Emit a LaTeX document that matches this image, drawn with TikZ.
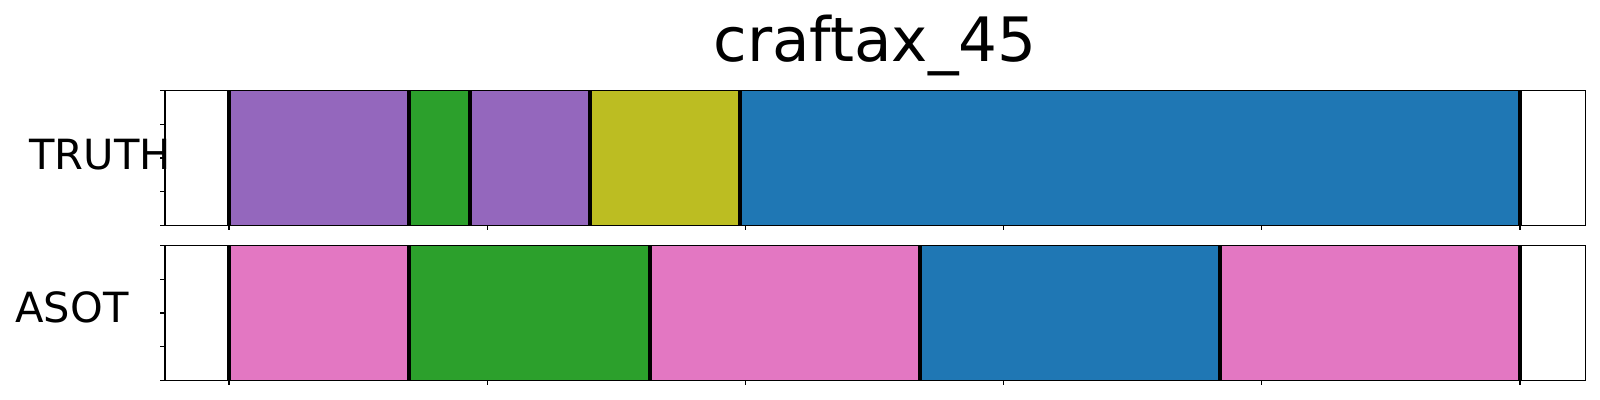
\documentclass[tikz,border=0pt]{standalone}
\usepackage{fontspec}
\setmainfont{DejaVu Sans}
\usepackage{tikz}

\definecolor{segpurple}{HTML}{9467BD}
\definecolor{seggreen}{HTML}{2CA02C}
\definecolor{segolive}{HTML}{BCBD22}
\definecolor{segblue}{HTML}{1F77B4}
\definecolor{segpink}{HTML}{E377C2}

\begin{document}
\begin{tikzpicture}[x=0.5pt, y=-0.5pt,
  spine/.style={line width=0.55pt, black},
  bound/.style={line width=1.85pt, black},
  rowlabel/.style={anchor=base west, inner sep=0pt, font=\fontsize{20.8pt}{25pt}\selectfont}]
  \useasboundingbox [fill=white] (0,0) rectangle (1600,400);

  % title and row labels
  \node (title) at (875,61.7) [anchor=base, inner sep=0pt, font=\fontsize{30.6pt}{36pt}\selectfont] {craftax\_45};
  \node (truth) at (29,169.3) [rowlabel] {TRUTH};
  \node (asot) at (15,322.7) [rowlabel] {ASOT};

  % TRUTH segments
  \fill [segpurple] (229,90.7) rectangle (409,225.3);
  \fill [seggreen] (409,90.7) rectangle (470,225.3);
  \fill [segpurple] (470,90.7) rectangle (589.7,225.3);
  \fill [segolive] (589.7,90.7) rectangle (739.7,225.3);
  \fill [segblue] (739.7,90.7) rectangle (1520,225.3);
  \foreach \b in {229,409,470,589.7,739.7,1520}
    \draw [bound] (\b,90.7) -- (\b,225.3);

  % ASOT segments
  \fill [segpink] (229,245.7) rectangle (409,380.3);
  \fill [seggreen] (409,245.7) rectangle (649.8,380.3);
  \fill [segpink] (649.8,245.7) rectangle (920,380.3);
  \fill [segblue] (920,245.7) rectangle (1220,380.3);
  \fill [segpink] (1220,245.7) rectangle (1520,380.3);
  \foreach \b in {229,409,649.8,920,1220,1520}
    \draw [bound] (\b,245.7) -- (\b,380.3);

  % frames and ticks
  \draw [spine] (165,90.7) rectangle (1585.5,225.3);
  \draw [spine] (165,245.7) rectangle (1585.5,380.3);
  \foreach \t in {229,487.2,745.4,1003.6,1261.8,1520} {
    \draw [spine] (\t,225.3) -- (\t,230.2);
    \draw [spine] (\t,380.3) -- (\t,385.2);
  }
  \foreach \t in {90.7,124.35,158,191.65,225.3}
    \draw [spine] (165,\t) -- (160.1,\t);
  \foreach \t in {245.7,279.35,313,346.65,380.3}
    \draw [spine] (165,\t) -- (160.1,\t);
\end{tikzpicture}
\end{document}
